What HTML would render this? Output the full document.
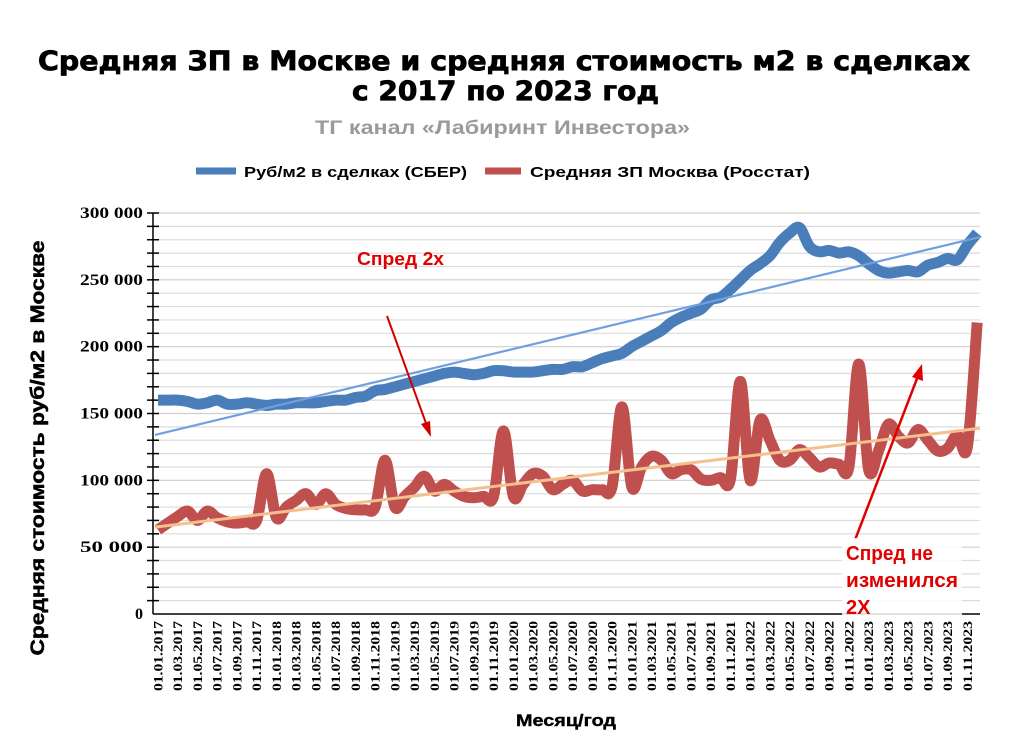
<!DOCTYPE html>
<html><head><meta charset="utf-8"><style>
body{margin:0;background:#fff;}
svg{display:block;}
</style></head><body>
<svg id="s" width="1024" height="743" xmlns="http://www.w3.org/2000/svg" font-family="Liberation Sans, sans-serif">
<rect width="1024" height="743" fill="#fff"/>
<g font-family="DejaVu Sans, sans-serif" font-weight="bold" stroke="#000" stroke-width="0.8">
<text x="38" y="70" font-size="27" textLength="932" lengthAdjust="spacingAndGlyphs">Средняя ЗП в Москве и средняя стоимость м2 в сделках</text>
<text x="352" y="100" font-size="27" textLength="307" lengthAdjust="spacingAndGlyphs">с 2017 по 2023 год</text>
</g>
<text x="315" y="134" font-size="19" font-weight="bold" fill="#9a9a9a" textLength="375" lengthAdjust="spacingAndGlyphs">ТГ канал «Лабиринт Инвестора»</text>
<line x1="196" y1="171" x2="236" y2="171" stroke="#4a7ebb" stroke-width="7"/>
<text x="244" y="177" font-size="15" font-weight="bold" textLength="223" lengthAdjust="spacingAndGlyphs">Руб/м2 в сделках (СБЕР)</text>
<line x1="485" y1="171" x2="521" y2="171" stroke="#c0504d" stroke-width="7"/>
<text x="530" y="177" font-size="15" font-weight="bold" textLength="280" lengthAdjust="spacingAndGlyphs">Средняя ЗП Москва (Росстат)</text>
<g id="grid"></g>
<g id="data"></g>
<text x="357" y="265" font-size="18" font-weight="bold" fill="#e00000" textLength="87" lengthAdjust="spacingAndGlyphs">Спред 2х</text>
<line x1="387" y1="316" x2="427" y2="426" stroke="#d00000" stroke-width="2"/>
<polygon points="431,437 421,424 430,421" fill="#d00000"/>
<line x1="855" y1="540" x2="918" y2="376" stroke="#e00000" stroke-width="2.5"/>
<polygon points="922,364 923,381 912,377" fill="#e00000"/>
<rect x="842" y="538" width="120" height="78" fill="#fff" opacity="0.85"/>
<g font-size="20" font-weight="bold" fill="#e00000">
<text x="846" y="560" textLength="87" lengthAdjust="spacingAndGlyphs">Спред не</text>
<text x="846" y="587" textLength="112" lengthAdjust="spacingAndGlyphs">изменился</text>
<text x="846" y="614">2Х</text>
</g>
<text transform="translate(44,448) rotate(-90)" text-anchor="middle" font-size="19" font-weight="bold" stroke="#000" stroke-width="0.5" textLength="415" lengthAdjust="spacingAndGlyphs">Средняя стоимость руб/м2 в Москве</text>
<text x="516" y="726" font-size="17" font-weight="bold" stroke="#000" stroke-width="0.4" textLength="100" lengthAdjust="spacingAndGlyphs">Месяц/год</text>
</svg>
<script>
var NS="http://www.w3.org/2000/svg";
function el(p,t,a,txt){var e=document.createElementNS(NS,t);for(var k in a)e.setAttribute(k,a[k]);if(txt)e.textContent=txt;p.appendChild(e);return e;}
var g=document.getElementById('grid'),d=document.getElementById('data');
var x0=153,x1=980,y0=614,ys=401/300;
function Y(v){return y0-v*ys;}
for(var v=10;v<=300;v+=10){el(g,'line',{x1:x0,x2:x1,y1:Y(v),y2:Y(v),stroke:v%50==0?'#cfcfcf':'#dcdcdc','stroke-width':1.2});
 el(g,'line',{x1:x0-6,x2:x0+6,y1:Y(v),y2:Y(v),stroke:'#000','stroke-width':1.5});}
for(var v=0;v<=300;v+=50){var a={x:143,y:Y(v)+5,'text-anchor':'end','font-size':16,'font-weight':'bold','font-family':'Liberation Serif, serif'};if(v)a.textLength=63,a.lengthAdjust='spacingAndGlyphs';el(g,'text',a,v==0?'0':(v+' 000'));}
el(g,'line',{x1:x0,x2:x0,y1:Y(300),y2:y0,stroke:'#000','stroke-width':1.5});
el(g,'line',{x1:x0,x2:x1,y1:y0,y2:y0,stroke:'#000','stroke-width':1.5});
var dx=9.87,xs=158;
function X(i){return xs+i*dx;}
for(var i=0;i<84;i+=2){var yr=2017+Math.floor(i/12),m=(i%12)+1;var lab='01.'+(m<10?'0':'')+m+'.'+yr;
 el(g,'text',{transform:'translate('+(X(i)+4.5)+',621) rotate(-90)','text-anchor':'end','font-size':13,'font-weight':'bold','font-family':'Liberation Serif, serif',textLength:70,lengthAdjust:'spacingAndGlyphs'},lab);}
var blue=[160,160,160,159,157,158,160,157,157,158,157,156,
157,157,158,158,158,159,160,160,162,163,167,168,
170,172,174,176,178,180,181,180,179,180,182,182,
181,181,181,182,183,183,185,185,188,191,193,195,
200,204,208,212,218,222,225,228,235,237,243,250,
257,262,268,278,285,289,275,271,272,270,271,268,
262,257,255,256,257,256,261,263,266,265,276,285];
var red=[63,68,73,77,70,77,72,69,68,69,70,105,
72,80,85,90,82,90,82,79,78,78,80,115,
80,88,95,103,92,97,92,88,87,88,88,137,
88,97,105,103,93,97,100,92,93,93,95,155,
95,110,118,115,105,108,108,101,100,102,101,174,
100,145,130,115,115,123,117,110,113,112,110,187,
108,122,142,133,128,138,130,122,124,134,125,218];
function path(a){var s='';var n=a.length;function P(i){i=Math.max(0,Math.min(n-1,i));return [X(i),Y(a[i])];}
 for(var i=0;i<n;i++){var p=P(i);if(i==0){s='M'+p[0]+','+p[1];continue;}
  var p0=P(i-2),p1=P(i-1),p3=P(i+1);
  var c1=[p1[0]+(p[0]-p0[0])/6,p1[1]+(p[1]-p0[1])/6],c2=[p[0]-(p3[0]-p1[0])/6,p[1]-(p3[1]-p1[1])/6];
  s+=' C'+c1[0]+','+c1[1]+' '+c2[0]+','+c2[1]+' '+p[0]+','+p[1];}return s;}
el(d,'path',{d:path(blue),fill:'none',stroke:'#4a7ebb','stroke-width':11,'stroke-linejoin':'round','stroke-linecap':'butt'});
el(d,'path',{d:path(red),fill:'none',stroke:'#c0504d','stroke-width':11,'stroke-linejoin':'round','stroke-linecap':'butt'});
el(d,'line',{x1:155,y1:Y(134),x2:980,y2:Y(282),stroke:'#6fa0e0','stroke-width':2.2});
el(d,'line',{x1:155,y1:Y(65),x2:980,y2:Y(139),stroke:'#f5c08f','stroke-width':3});
</script>
</body></html>
